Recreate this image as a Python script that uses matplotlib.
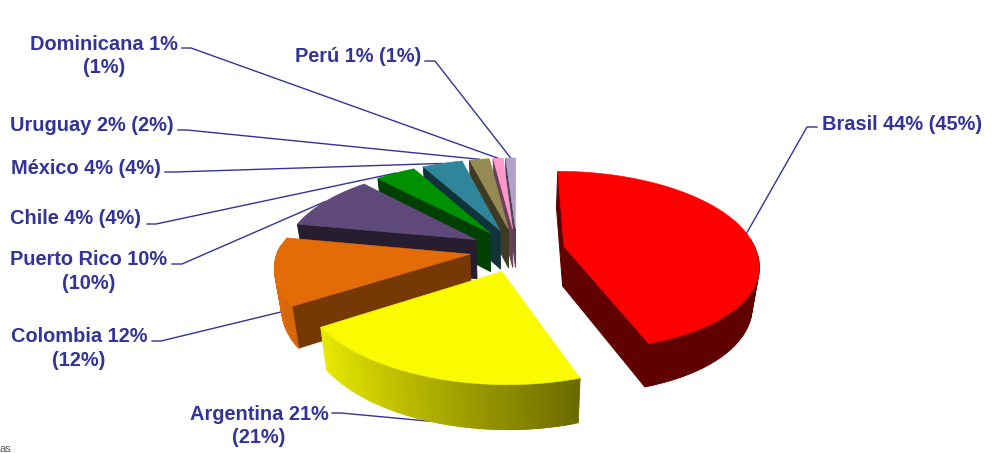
import numpy as np
import matplotlib
matplotlib.use("Agg")
import matplotlib.pyplot as plt

# ---- data ----
countries = ["Brasil", "Argentina", "Colombia", "Puerto Rico", "Chile",
             "México", "Uruguay", "Dominicana", "Perú"]
values = [44, 21, 12, 10, 4, 4, 2, 1, 1]
shares = [45, 21, 12, 10, 4, 4, 2, 1, 1]
label_texts = ["Brasil 44% (45%)", "Argentina 21%\n(21%)", "Colombia 12%\n(12%)",
               "Puerto Rico 10%\n(10%)", "Chile 4% (4%)", "México 4% (4%)",
               "Uruguay 2% (2%)", "Dominicana 1%\n(1%)", "Perú 1% (1%)"]

# ---- styles / layout ----
top_colors = ["#FF0000", "#FAFA00", "#E36C09", "#5F497A", "#009100",
              "#31859B", "#948A54", "#FF99CC", "#B2A1C7"]
cut_shade = [0.38, 0.42, 0.52, 0.40, 0.44, 0.38, 0.42, 0.42, 0.42]
label_xy = [(902, 124.5), (259, 426), (79, 348.5), (89, 271.5), (76, 218.5),
            (86, 168.5), (92, 125.5), (104, 56), (358, 56.5)]
elbows = [((817, 127), (807, 127)), ((332, 413), (341, 413)), ((152, 341), (161, 341)),
          ((172, 264), (182, 264)), ((147, 224), (156, 224)), ((165, 172), (175, 172)),
          ((178, 130), (187, 130)), ((182, 48), (191, 48)), ((425, 61), (435, 61))]
TEXT = "#333399"
LINE = "#333399"
CX, CY = 517.0, 250.0
A, B, S, K = 191.6, 88.0, 7.1, 0.156
EXPLODE = 0.25


def project(U, V):
    f = 1.0 / (1.0 - K * V)
    return CX + (A * U + S * np.maximum(V, 0)) * f, CY + B * V * f, f


def lower(x, y, f):
    return CX + (x - CX) * 0.97, y + 17.0 + 22.5 * f


def shade(c, k):
    rgb = np.array(matplotlib.colors.to_rgb(c))
    return tuple(rgb * k)


fig = plt.figure(figsize=(9.96, 4.53), dpi=100)
ax = fig.add_axes([0, 0, 1, 1])
ax.set_xlim(0, 996)
ax.set_ylim(453, 0)
ax.axis("off")

angles = np.deg2rad(np.cumsum([0] + shares) * 360.0 / sum(shares))

# leader lines sit under the pie and end on the rim at each slice's mid angle
for i, (a0, a1) in enumerate(zip(angles[:-1], angles[1:])):
    m = (a0 + a1) / 2
    U = (1 + EXPLODE) * np.sin(m)
    V = -(1 + EXPLODE) * np.cos(m)
    x, y, f = project(U, V)
    if np.pi < m < 1.5 * np.pi:
        x, y = lower(x, y, f)
    p0, p1 = elbows[i]
    ax.plot([p0[0], p1[0], x], [p0[1], p1[1], y], color=LINE, lw=1.0, zorder=1,
            solid_joinstyle="round")
    ax.text(*label_xy[i], label_texts[i], color=TEXT, fontsize=14.4, fontweight="bold",
            ha="center", va="center", linespacing=1.29,
            family=["Liberation Sans", "DejaVu Sans"], zorder=5)

# slices painted back to front
order = [8, 7, 6, 5, 4, 3, 2, 0, 1]
for z, i in enumerate(order):
    a0, a1 = angles[i], angles[i + 1]
    m = (a0 + a1) / 2
    ex, ey = EXPLODE * np.sin(m), -EXPLODE * np.cos(m)
    th = np.linspace(a0, a1, 60)
    Ur = ex + np.sin(th)
    Vr = ey - np.cos(th)
    xr, yr, fr = project(Ur, Vr)
    xc, yc, fc = project(ex, ey)
    xrb, yrb = lower(xr, yr, fr)
    xcb, ycb = lower(xc, yc, fc)
    quads = []
    cut = shade(top_colors[i], cut_shade[i])
    # a cut face shows only if its outward normal points towards the viewer
    if -np.sin(a0) > -0.01:
        quads.append((Vr[0] / 2 + ey / 2,
                      [(xc, yc), (xr[0], yr[0]), (xrb[0], yrb[0]), (xcb, ycb)], cut))
    if np.sin(a1) > -0.01 and a1 < 6.2:
        quads.append((Vr[-1] / 2 + ey / 2,
                      [(xc, yc), (xr[-1], yr[-1]), (xrb[-1], yrb[-1]), (xcb, ycb)], cut))
    for j in range(len(th) - 1):
        mid = (th[j] + th[j + 1]) / 2
        if np.cos(mid) > 0.1:
            continue
        j2 = min(j + 2, len(th) - 1)   # overlap neighbours to hide seams
        k = float(np.clip(0.42 + (0.31 - np.sin(mid)) * 0.45, 0.38, 1.0))
        if i == 0:
            k = cut_shade[0]
        quads.append(((Vr[j] + Vr[j + 1]) / 2,
                      [(xr[j], yr[j]), (xr[j2], yr[j2]),
                       (xrb[j2], yrb[j2]), (xrb[j], yrb[j])],
                      shade(top_colors[i], k)))
    quads.sort(key=lambda q: q[0])
    for _, pts, col in quads:
        px, py = zip(*pts)
        ax.fill(px, py, facecolor=col, edgecolor=col, lw=0.7, zorder=2 + z * 0.01)
    ax.fill(np.r_[xc, xr], np.r_[yc, yr], facecolor=top_colors[i],
            edgecolor=top_colors[i], lw=0.4, zorder=2 + z * 0.01 + 0.005)

ax.text(-1, 449, "as", color="#555555", fontsize=8, ha="left", va="center",
        family="Liberation Sans")

fig.savefig("out.png", dpi=100, facecolor="white")
